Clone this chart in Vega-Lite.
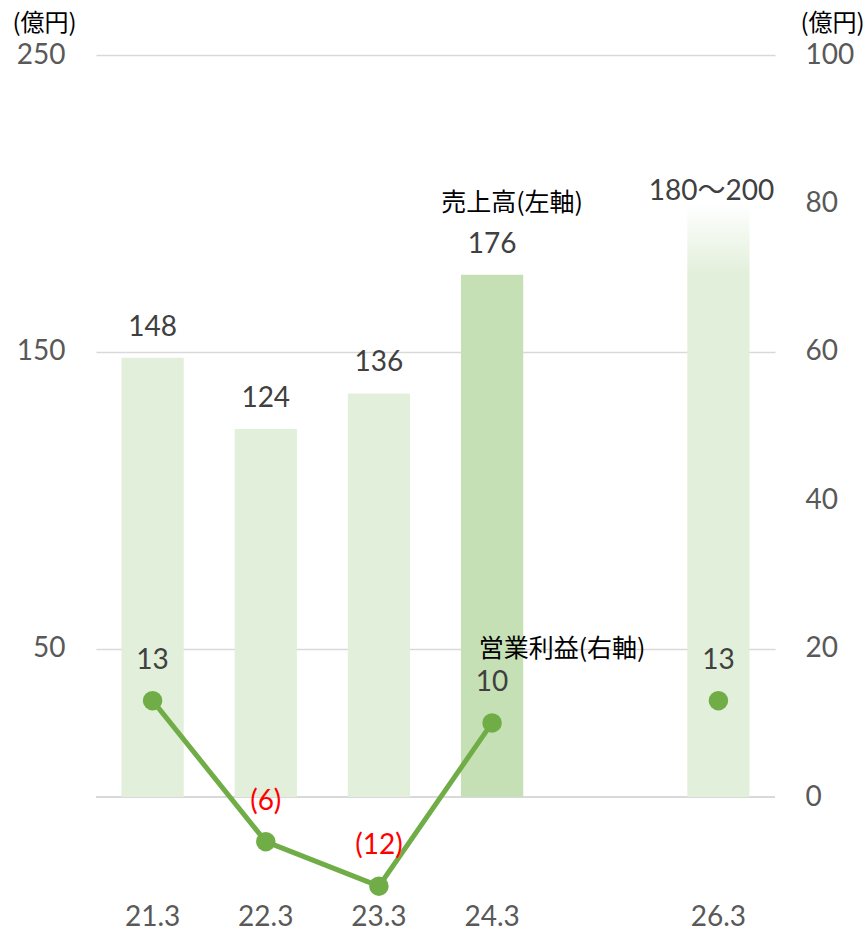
{
  "$schema": "https://vega.github.io/schema/vega-lite/v6.json",
  "width": 679,
  "height": 846,
  "autosize": {"type": "none"},
  "padding": {"left": 96, "top": 55, "right": 93, "bottom": 28},
  "config": {"view": {"stroke": null}, "font": "Lato"},
  "data": {"values": [
    {"year": "21.3", "sales": 148, "salesLabel": "148", "profit": 13, "profitLabel": "13"},
    {"year": "22.3", "sales": 124, "salesLabel": "124", "profit": -6, "profitLabel": "(6)"},
    {"year": "23.3", "sales": 136, "salesLabel": "136", "profit": -12, "profitLabel": "(12)"},
    {"year": "24.3", "sales": 176, "salesLabel": "176", "profit": 10, "profitLabel": "10"},
    {"year": "26.3", "sales": 200, "salesLabel": "180～200", "profit": 13, "profitLabel": "13"}
  ]},
  "layer": [
    {
      "encoding": {
        "x": {"field": "year", "type": "nominal",
          "scale": {"domain": ["21.3", "22.3", "23.3", "24.3", " ", "26.3"], "paddingInner": 0.45, "paddingOuter": 0.225},
          "axis": {"title": null, "domain": false, "ticks": false, "labelAngle": 0, "labelFontSize": 28, "labelColor": "#595959", "labelPadding": 2, "labelFont": "Lato"}},
        "y": {"field": "sales", "type": "quantitative",
          "scale": {"domain": [-35, 250], "nice": false, "zero": false},
          "axis": {"orient": "left", "values": [50, 150, 250], "grid": true, "gridColor": "#D9D9D9", "gridWidth": 1.5,
            "domain": false, "ticks": false, "labelFontSize": 28, "labelColor": "#595959", "labelPadding": 31, "labelFont": "Lato",
            "title": "(億円)", "titleAngle": 0, "titleX": -84, "titleY": -32, "titleAlign": "left", "titleBaseline": "middle",
            "titleFont": "Noto Sans CJK JP", "titleFontSize": 24, "titleFontWeight": "normal", "titleColor": "#000000"}}
      },
      "layer": [
        {
          "transform": [{"filter": "datum.year == '21.3'"}],
          "mark": {"type": "rule", "color": "#D9D9D9", "strokeWidth": 2},
          "encoding": {"x": null, "y": {"datum": 0}}
        },
        {
          "transform": [{"filter": "datum.year != '26.3'"}],
          "mark": {"type": "bar"},
          "encoding": {
            "y2": {"datum": 0},
            "color": {"condition": {"test": "datum.year == '24.3'", "value": "#C5E0B4"}, "value": "#E2EFDA"}
          }
        },
        {
          "transform": [{"filter": "datum.year == '26.3'"}],
          "mark": {"type": "bar", "color": {"gradient": "linear", "x1": 0, "y1": 1, "x2": 0, "y2": 0,
            "stops": [{"offset": 0, "color": "#E2EFDA"}, {"offset": 0.88, "color": "#E2EFDA"}, {"offset": 1, "color": "#ffffff"}]}},
          "encoding": {"y2": {"datum": 0}}
        },
        {
          "transform": [{"filter": "datum.year != '26.3'"}],
          "mark": {"type": "text", "dy": -30, "baseline": "middle", "fontSize": 28, "color": "#404040", "font": "Lato"},
          "encoding": {"text": {"field": "salesLabel"}}
        },
        {
          "transform": [{"filter": "datum.year == '26.3'"}],
          "mark": {"type": "text", "dy": -11, "dx": -7, "baseline": "middle", "fontSize": 28, "color": "#404040", "font": "Lato, Noto Sans CJK JP"},
          "encoding": {"text": {"field": "salesLabel"}}
        },
        {
          "data": {"values": [{"year": "24.3", "sales": 200, "note": "売上高(左軸)"}]},
          "mark": {"type": "text", "dx": 20, "baseline": "middle", "fontSize": 25, "color": "#000000", "font": "Noto Sans CJK JP"},
          "encoding": {"text": {"field": "note"}}
        }
      ]
    },
    {
      "encoding": {
        "x": {"field": "year", "type": "nominal"},
        "y": {"field": "profit", "type": "quantitative",
          "scale": {"domain": [-14, 100], "nice": false, "zero": false},
          "axis": {"orient": "right", "values": [0, 20, 40, 60, 80, 100], "grid": false,
            "domain": false, "ticks": false, "labelFontSize": 28, "labelColor": "#595959", "labelPadding": 30, "labelFont": "Lato",
            "title": "(億円)", "titleAngle": 0, "titleX": 25, "titleY": -32, "titleAlign": "left", "titleBaseline": "middle",
            "titleFont": "Noto Sans CJK JP", "titleFontSize": 24, "titleFontWeight": "normal", "titleColor": "#000000"}}
      },
      "layer": [
        {
          "transform": [{"filter": "datum.year != '26.3'"}],
          "mark": {"type": "line", "color": "#70AD47", "strokeWidth": 5}
        },
        {
          "mark": {"type": "circle", "color": "#70AD47", "size": 380, "opacity": 1}
        },
        {
          "mark": {"type": "text", "dy": -40, "baseline": "middle", "fontSize": 28, "font": "Lato"},
          "encoding": {
            "text": {"field": "profitLabel"},
            "color": {"condition": {"test": "datum.profit < 0", "value": "#FF0000"}, "value": "#404040"}
          }
        },
        {
          "data": {"values": [{"year": "24.3", "profit": 20, "note": "営業利益(右軸)"}]},
          "mark": {"type": "text", "dx": 70, "baseline": "middle", "fontSize": 25, "color": "#000000", "font": "Noto Sans CJK JP"},
          "encoding": {"text": {"field": "note"}}
        }
      ]
    }
  ],
  "resolve": {"scale": {"y": "independent"}}
}
